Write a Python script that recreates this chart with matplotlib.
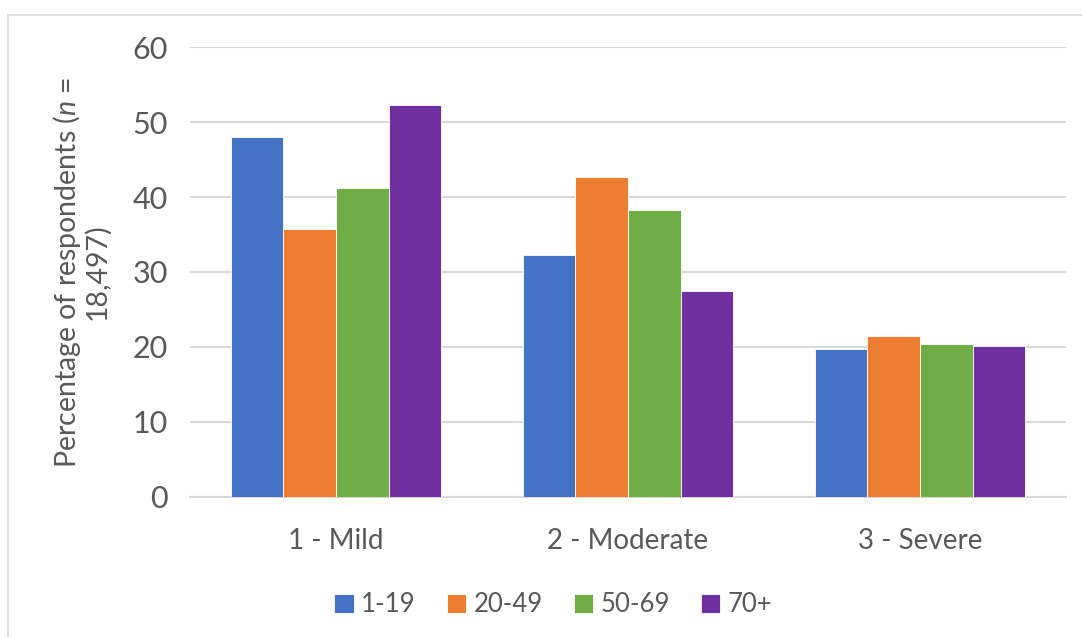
import matplotlib.pyplot as plt
import numpy as np
from matplotlib.lines import Line2D

plt.rcParams['font.family'] = ['Lato', 'DejaVu Sans']
plt.rcParams['mathtext.fontset'] = 'custom'
plt.rcParams['mathtext.it'] = 'Lato:italic'
plt.rcParams['mathtext.rm'] = 'Lato'
text_grey = "#595959"

categories = ["1 - Mild", "2 - Moderate", "3 - Severe"]
age_groups = ["1-19", "20-49", "50-69", "70+"]
vals_1_19 = [48.0, 32.2, 19.7]
vals_20_49 = [35.7, 42.7, 21.4]
vals_50_69 = [41.2, 38.3, 20.4]
vals_70_plus = [52.3, 27.5, 20.1]
colors = ["#4472C4", "#ED7D31", "#70AD47", "#7030A0"]

series = [vals_1_19, vals_20_49, vals_50_69, vals_70_plus]

fig = plt.figure(figsize=(10.82, 6.37), dpi=100)
ax = fig.add_axes([0.1756, 0.2198, 0.8096, 0.7064])

x = np.arange(len(categories))
w = 0.18
for i, (vals, c, lab) in enumerate(zip(series, colors, age_groups)):
    ax.bar(x + (i - 1.5) * w, vals, width=w, color=c, label=lab,
           edgecolor="white", linewidth=0.6, zorder=3)

ax.set_xlim(-0.5, 2.5)
ax.set_ylim(0, 60)
ax.set_yticks(range(0, 61, 10))
ax.yaxis.grid(True, color="#d9d9d9", linewidth=1.5, zorder=0)
ax.set_axisbelow(True)
for s in ["top", "right", "left"]:
    ax.spines[s].set_visible(False)
ax.spines["bottom"].set_color("#d9d9d9")
ax.spines["bottom"].set_linewidth(1.5)
ax.tick_params(length=0, labelsize=22, colors=text_grey, pad=16)
ax.tick_params(axis="x", labelsize=20, pad=22)
ax.set_xticks(x)
ax.set_xticklabels(categories)

ax.set_ylabel("Percentage of respondents ($\\it{n}$ =\n18,497)", fontsize=20.5,
              color=text_grey, labelpad=16, linespacing=1.0)

leg = ax.legend(loc="upper center", bbox_to_anchor=(0.415, -0.16), ncol=4,
                frameon=False, fontsize=18.5, handlelength=0.75, handleheight=0.75,
                handletextpad=0.3, columnspacing=1.2, labelcolor=text_grey)

# outer chart border
fig.add_artist(Line2D([8 / 1082, 1], [1 - 15 / 637, 1 - 15 / 637], color="#d9d9d9", lw=1.2))
fig.add_artist(Line2D([8 / 1082, 8 / 1082], [0, 1 - 15 / 637], color="#d9d9d9", lw=1.2))

fig.savefig("out.png", dpi=100)
